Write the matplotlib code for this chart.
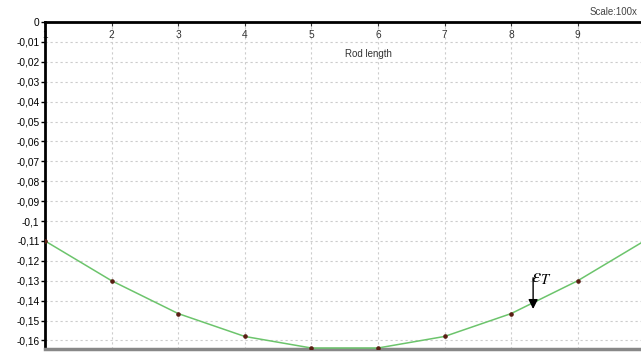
import matplotlib.pyplot as plt
import numpy as np

plt.rcParams['font.family'] = ['Liberation Sans', 'DejaVu Sans']
plt.rcParams['mathtext.fontset'] = 'stix'

# deflection along the rod
rod_pos = [1, 2, 3, 4, 5, 6, 7, 8, 9, 10]
deflection = [-0.11, -0.13, -0.1465, -0.158, -0.1638, -0.1638, -0.158, -0.1465, -0.13, -0.11]
y_ticks = [0, -0.01, -0.02, -0.03, -0.04, -0.05, -0.06, -0.07, -0.08,
           -0.09, -0.1, -0.11, -0.12, -0.13, -0.14, -0.15, -0.16]
x_ticks = [1, 2, 3, 4, 5, 6, 7, 8, 9]

fig = plt.figure(figsize=(6.41, 3.54), dpi=100)
ax = fig.add_axes([45 / 641, 1 - 349 / 354, 1 - 45 / 641, 327 / 354])

ax.plot(rod_pos, deflection, color="#6cc46c", lw=1.1, zorder=3)
ax.plot(rod_pos, deflection, ls="none", marker="o", ms=2.3, color="#5a1e14", zorder=4)

ax.set_xlim(1, 9.95)
ax.set_ylim(-0.1643, 0)

ax.set_yticks(y_ticks)
ax.set_yticklabels([("%g" % v).replace(".", ",") for v in y_ticks], fontsize=7.3)
ax.set_xticks(x_ticks)
ax.set_xticklabels([str(v) for v in x_ticks], fontsize=7.3)
ax.xaxis.tick_top()
ax.tick_params(axis="x", direction="in", length=3, pad=-13, colors="#333333")
ax.tick_params(axis="y", direction="out", length=3, width=1, pad=1)

ax.grid(True, ls=(0, (2, 2.5)), color="#cccccc", lw=0.8, zorder=0)

ax.spines["right"].set_visible(False)
ax.spines["left"].set_linewidth(2)
ax.spines["top"].set_linewidth(2)
ax.spines["bottom"].set_linewidth(2.5)
ax.spines["bottom"].set_color("#888888")

ax.text(0.542, 0.903, "Rod length", transform=ax.transAxes, fontsize=7,
        ha="center", va="center", color="#333333")

ax.annotate("", xy=(8.33, -0.1442), xytext=(8.33, -0.1285),
            arrowprops=dict(arrowstyle="-|>", color="black", lw=1,
                            mutation_scale=14, shrinkA=0, shrinkB=0))
ax.text(8.30, -0.1285, r"$\varepsilon_T$", fontsize=15, ha="left", va="center")

fig.text(590 / 641, 1 - 12 / 354, "Scale:100x", fontsize=7, color="#444444",
         ha="left", va="center")

fig.savefig("out.png", dpi=100)
